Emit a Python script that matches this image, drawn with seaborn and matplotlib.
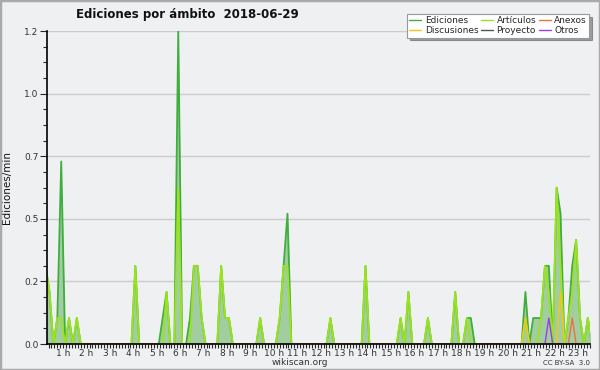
import numpy as np
import pandas as pd
import matplotlib
matplotlib.use('Agg')
import matplotlib.pyplot as plt
from matplotlib.patches import Rectangle
from matplotlib.ticker import FixedLocator, FormatStrFormatter
import seaborn as sns

# ============================================================================
# DATA: edits per minute in 10-minute bins, 2018-06-29 (144 bins)
# ============================================================================

ediciones = [
    0.2, 0.3, 0.2, 0.0, 0.1, 0.7, 0.0, 0.1, 0.0, 0.1, 0.0, 0.0,   # 0-2 h
    0.0, 0.0, 0.0, 0.0, 0.0, 0.0, 0.0, 0.0, 0.0, 0.0, 0.0, 0.0,   # 2-4 h
    0.3, 0.0, 0.0, 0.0, 0.0, 0.0, 0.0, 0.1, 0.2, 0.0, 0.0, 1.2,   # 4-6 h
    0.0, 0.0, 0.1, 0.3, 0.3, 0.1, 0.0, 0.0, 0.0, 0.0, 0.3, 0.1,   # 6-8 h
    0.1, 0.0, 0.0, 0.0, 0.0, 0.0, 0.0, 0.0, 0.1, 0.0, 0.0, 0.0,   # 8-10 h
    0.0, 0.1, 0.3, 0.5, 0.0, 0.0, 0.0, 0.0, 0.0, 0.0, 0.0, 0.0,   # 10-12 h
    0.0, 0.0, 0.1, 0.0, 0.0, 0.0, 0.0, 0.0, 0.0, 0.0, 0.0, 0.3,   # 12-14 h
    0.0, 0.0, 0.0, 0.0, 0.0, 0.0, 0.0, 0.0, 0.1, 0.0, 0.2, 0.0,   # 14-16 h
    0.0, 0.0, 0.0, 0.1, 0.0, 0.0, 0.0, 0.0, 0.0, 0.0, 0.2, 0.0,   # 16-18 h
    0.0, 0.1, 0.1, 0.0, 0.0, 0.0, 0.0, 0.0, 0.0, 0.0, 0.0, 0.0,   # 18-20 h
    0.0, 0.0, 0.0, 0.0, 0.2, 0.0, 0.1, 0.1, 0.1, 0.3, 0.3, 0.0,   # 20-22 h
    0.6, 0.5, 0.0, 0.1, 0.3, 0.4, 0.1, 0.0, 0.1, 0.0, 0.0, 0.0,   # 22-24 h
]

articulos = [
    0.2, 0.3, 0.2, 0.0, 0.1, 0.1, 0.0, 0.1, 0.0, 0.1, 0.0, 0.0,
    0.0, 0.0, 0.0, 0.0, 0.0, 0.0, 0.0, 0.0, 0.0, 0.0, 0.0, 0.0,
    0.3, 0.0, 0.0, 0.0, 0.0, 0.0, 0.0, 0.0, 0.2, 0.0, 0.0, 0.6,
    0.0, 0.0, 0.0, 0.3, 0.3, 0.1, 0.0, 0.0, 0.0, 0.0, 0.3, 0.1,
    0.1, 0.0, 0.0, 0.0, 0.0, 0.0, 0.0, 0.0, 0.1, 0.0, 0.0, 0.0,
    0.0, 0.1, 0.3, 0.3, 0.0, 0.0, 0.0, 0.0, 0.0, 0.0, 0.0, 0.0,
    0.0, 0.0, 0.1, 0.0, 0.0, 0.0, 0.0, 0.0, 0.0, 0.0, 0.0, 0.3,
    0.0, 0.0, 0.0, 0.0, 0.0, 0.0, 0.0, 0.0, 0.1, 0.0, 0.2, 0.0,
    0.0, 0.0, 0.0, 0.1, 0.0, 0.0, 0.0, 0.0, 0.0, 0.0, 0.2, 0.0,
    0.0, 0.1, 0.0, 0.0, 0.0, 0.0, 0.0, 0.0, 0.0, 0.0, 0.0, 0.0,
    0.0, 0.0, 0.0, 0.0, 0.1, 0.0, 0.0, 0.0, 0.1, 0.3, 0.2, 0.0,
    0.6, 0.3, 0.0, 0.1, 0.2, 0.4, 0.1, 0.0, 0.1, 0.0, 0.0, 0.0,
]

# sparse series: only the bins with activity (bin index -> value)
discusiones = {124: 0.1, 133: 0.2}
anexos = {136: 0.1}
otros = {130: 0.1}
proyecto = {}

N_BINS = 144
hour_labels = [f'{h} h' for h in range(1, 24)]

# ============================================================================
# BUILD TABLE
# ============================================================================

def dense(sparse):
    vals = np.zeros(N_BINS)
    for k, v in sparse.items():
        vals[k] = v
    return vals

hours = (np.arange(N_BINS) + 0.5) / 6.0
df = pd.DataFrame({
    'hora': hours,
    'Ediciones': ediciones,
    'Artículos': articulos,
    'Discusiones': dense(discusiones),
    'Anexos': dense(anexos),
    'Proyecto': dense(proyecto),
    'Otros': dense(otros),
})

colors = {
    'Ediciones': '#3fae3f',
    'Artículos': '#9be41a',
    'Anexos': '#f07040',
    'Discusiones': '#f5c518',
    'Proyecto': '#555555',
    'Otros': '#9a3cf0',
}

# ============================================================================
# PLOT
# ============================================================================

sns.set_theme(style='white')
plt.rcParams['font.family'] = ['DejaVu Sans']
BG = '#eff0f2'

fig = plt.figure(figsize=(6, 3.7), dpi=100, facecolor=BG)
ax = fig.add_axes([0.078, 0.07, 0.905, 0.846])
ax.set_facecolor(BG)

# filled total area
ax.fill_between(df['hora'], 0, df['Ediciones'], color='#9dcb9d', alpha=0.95,
                linewidth=0, zorder=1)

for name in ['Proyecto', 'Otros', 'Anexos', 'Discusiones']:
    sns.lineplot(data=df, x='hora', y=name, ax=ax, color=colors[name],
                 linewidth=1.0, zorder=3, legend=False)
sns.lineplot(data=df, x='hora', y='Ediciones', ax=ax, color=colors['Ediciones'],
             linewidth=1.3, zorder=2, legend=False)
sns.lineplot(data=df, x='hora', y='Artículos', ax=ax, color=colors['Artículos'],
             linewidth=1.3, zorder=2.5, legend=False)

# axes
ax.set_xlim(0.3, 23.5)
ax.set_ylim(0, 1.2)
ax.set_xlabel('')
ax.set_ylabel('Ediciones/min', fontsize=7.5, color='#111111', labelpad=9)

ax.yaxis.set_major_locator(FixedLocator(np.linspace(0, 1.2, 6)))
ax.yaxis.set_minor_locator(FixedLocator(np.arange(0, 1.2001, 0.06)))
ax.yaxis.set_major_formatter(FormatStrFormatter('%.1f'))
ax.tick_params(axis='y', which='major', length=5, width=0.8, labelsize=6.5,
               labelcolor='#333333', direction='out', left=True, pad=1)
ax.tick_params(axis='y', which='minor', length=3, width=0.8, direction='out', left=True)

ax.xaxis.set_major_locator(FixedLocator(range(1, 24)))
ax.xaxis.set_minor_locator(FixedLocator(np.arange(0, 24, 0.125)))
ax.set_xticklabels(hour_labels)
ax.tick_params(axis='x', which='major', length=3, width=0.8, labelsize=6.5,
               labelcolor='#333333', direction='out', bottom=True, pad=0.5)
ax.tick_params(axis='x', which='minor', length=3, width=0.8, direction='out', bottom=True)

ax.grid(axis='y', which='major', color='#cccccc', linewidth=1, zorder=0)
ax.set_axisbelow(True)
for side in ['top', 'right']:
    ax.spines[side].set_visible(False)
for side in ['left', 'bottom']:
    ax.spines[side].set_color('black')
    ax.spines[side].set_linewidth(1.2)
    ax.spines[side].set_zorder(4)

# legend
order = ['Ediciones', 'Discusiones', 'Artículos', 'Proyecto', 'Anexos', 'Otros']
handles = [plt.Line2D([], [], color=colors[n], linewidth=1) for n in order]
leg = fig.legend(handles, order, ncol=3, loc='upper right',
                 bbox_to_anchor=(0.99, 0.975), fontsize=6.5, frameon=True,
                 fancybox=False, shadow=True, handlelength=1.3,
                 handletextpad=0.4, columnspacing=0.3, labelspacing=0.05,
                 borderpad=0.3)
leg.get_frame().set_edgecolor('#999999')
leg.get_frame().set_linewidth(0.8)

# texts
fig.text(0.312, 0.96, 'Ediciones por ámbito  2018-06-29', ha='center', va='center',
         fontsize=8.5, fontweight='bold', color='#111111')
fig.text(0.5, 0.02, 'wikiscan.org', ha='center', va='center', fontsize=6.5, color='#333333')
fig.text(0.983, 0.02, 'CC BY-SA  3.0', ha='right', va='center', fontsize=5, color='#333333')

# figure border
fig.patches.append(Rectangle((0, 0), 1, 1, transform=fig.transFigure, fill=False,
                             edgecolor='#aaaaaa', linewidth=2.5))

fig.savefig('out.png', dpi=100, facecolor=BG)
